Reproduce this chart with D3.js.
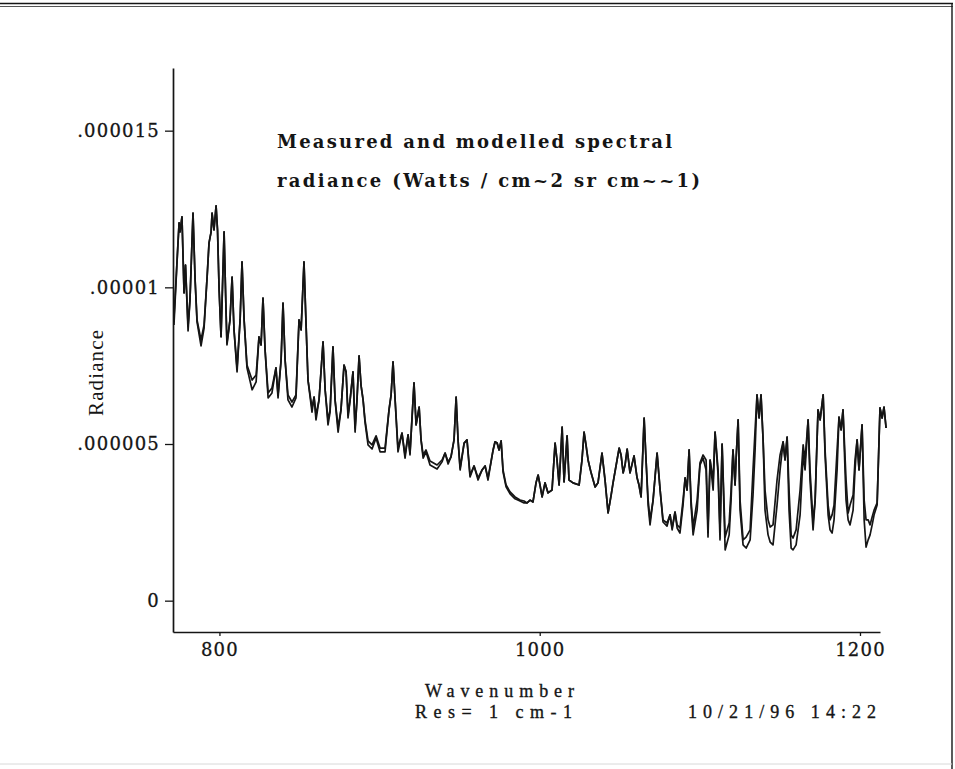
<!DOCTYPE html>
<html>
<head>
<meta charset="utf-8">
<script src="https://cdn.jsdelivr.net/npm/d3@7"></script>
<style>
  html, body { margin: 0; padding: 0; background: #fff; }
  svg { display: block; }
</style>
</head>
<body>
<svg id="chart" width="955" height="769"></svg>
<script>
// Spectral radiance, units of 1e-6 W / (cm^2 sr cm^-1), sampled at the wavenumbers below.
const wavenumber = [
  771.6, 773.5, 774.8, 775.4, 776.6, 777.9, 778.8, 780.4, 781.6, 783.5, 784.8, 786.0, 788.5, 790.4,
  792.3, 793.5, 794.8, 795.4, 796.6, 797.9, 798.8, 799.8, 801.0, 802.9, 804.1, 804.7, 806.6, 807.9,
  809.1, 811.0, 812.9, 814.1, 815.4, 817.2, 820.4, 822.9, 824.7, 826.0, 827.2, 828.5, 830.4, 832.8,
  835.3, 836.6, 838.5, 839.7, 841.0, 842.8, 845.3, 847.8, 849.7, 851.0, 852.8, 854.1, 855.3, 857.8,
  859.1, 860.3, 862.2, 864.7, 866.0, 867.8, 869.1, 870.9, 872.2, 874.1, 875.9, 877.8, 879.1, 880.3,
  881.6, 883.4, 884.7, 885.9, 887.2, 888.4, 889.7, 890.9, 892.8, 895.3, 897.8, 900.3, 903.4, 905.9,
  907.2, 908.4, 909.7, 911.5, 914.0, 915.9, 917.8, 919.0, 921.5, 922.8, 924.7, 925.9, 927.2, 929.0,
  931.5, 935.9, 939.0, 940.9, 942.8, 944.6, 946.5, 947.8, 949.0, 950.3, 952.8, 954.6, 956.5, 959.0,
  961.5, 964.0, 965.9, 967.7, 969.6, 970.9, 972.1, 973.4, 974.6, 975.9, 977.1, 979.0, 981.5, 984.6,
  987.7, 990.2, 992.1, 994.0, 995.8, 997.7, 999.0, 1000.2, 1001.5, 1003.3, 1005.2, 1007.7, 1009.6, 1010.8,
  1012.1, 1014.0, 1015.2, 1017.1, 1018.3, 1020.8, 1024.6, 1026.4, 1027.7, 1028.9, 1030.2, 1032.1, 1034.6, 1036.4,
  1038.9, 1040.8, 1042.7, 1044.6, 1045.8, 1048.3, 1049.6, 1050.8, 1052.1, 1053.3, 1054.6, 1056.4, 1058.9, 1060.8,
  1062.0, 1063.3, 1065.2, 1066.4, 1067.7, 1068.9, 1070.8, 1073.3, 1075.2, 1077.0, 1079.5, 1081.4, 1082.7, 1084.5,
  1085.8, 1087.6, 1089.5, 1090.8, 1092.0, 1093.3, 1094.5, 1095.8, 1098.3, 1100.1, 1102.0, 1103.9, 1105.1, 1106.4,
  1108.3, 1109.5, 1111.4, 1112.6, 1113.9, 1115.8, 1118.3, 1119.5, 1120.7, 1122.0, 1122.6, 1123.9, 1125.1, 1127.0,
  1128.9, 1131.4, 1133.2, 1134.5, 1135.7, 1137.0, 1138.2, 1139.5, 1140.7, 1142.6, 1143.9, 1145.7, 1148.2, 1150.1,
  1152.0, 1153.2, 1154.5, 1155.7, 1157.0, 1158.2, 1160.1, 1162.6, 1164.5, 1165.7, 1167.6, 1168.8, 1170.7, 1172.0,
  1173.8, 1175.1, 1177.0, 1178.2, 1180.1, 1181.3, 1182.6, 1183.8, 1185.7, 1186.9, 1188.2, 1189.4, 1191.3, 1192.6,
  1193.8, 1195.7, 1196.9, 1198.2, 1199.4, 1201.3, 1202.6, 1203.8, 1205.1, 1206.3, 1207.6, 1208.8, 1210.7, 1211.9,
  1212.5, 1213.8, 1215.0, 1216.3
];

const measured = [
  9.02, 10.81, 12.06, 11.77, 12.25, 9.82, 10.71, 8.77, 9.60, 12.37, 10.24, 8.96, 8.32, 8.80,
  10.33, 11.42, 11.77, 12.37, 11.83, 12.60, 11.83, 9.92, 8.42, 11.77, 9.28, 8.23, 8.96, 10.33,
  8.64, 7.43, 8.96, 10.81, 8.96, 7.52, 7.04, 7.20, 8.42, 8.16, 9.66, 8.00, 6.63, 6.79,
  7.43, 6.57, 7.68, 9.50, 7.68, 6.57, 6.34, 6.57, 8.96, 8.64, 10.81, 8.80, 7.04, 6.15,
  6.50, 5.93, 6.41, 8.26, 6.73, 5.77, 6.09, 8.10, 6.41, 5.54, 6.09, 7.52, 7.30, 5.93,
  6.41, 7.30, 5.51, 6.41, 7.81, 6.88, 6.41, 5.77, 5.10, 4.97, 5.26, 4.87, 4.87, 6.09,
  6.57, 7.62, 6.41, 4.87, 5.35, 4.65, 5.29, 4.71, 6.95, 5.61, 6.18, 5.13, 4.65, 4.81,
  4.46, 4.33, 4.49, 4.71, 4.43, 4.59, 5.13, 6.50, 5.13, 4.24, 5.03, 5.13, 4.01, 4.30,
  3.92, 4.17, 4.30, 3.92, 4.43, 4.81, 5.07, 5.03, 4.81, 5.10, 4.17, 3.69, 3.47, 3.31,
  3.21, 3.18, 3.12, 3.21, 3.15, 3.76, 4.01, 3.69, 3.31, 3.76, 3.44, 3.53, 5.03, 4.49,
  3.69, 5.54, 3.79, 5.26, 3.85, 3.76, 3.69, 4.49, 5.38, 4.97, 4.49, 4.08, 3.63, 3.76,
  4.71, 3.85, 2.80, 3.37, 3.76, 4.49, 4.87, 4.65, 4.08, 4.33, 4.84, 4.08, 4.62, 3.92,
  3.69, 3.31, 5.83, 4.49, 3.21, 2.58, 3.21, 4.71, 3.53, 2.58, 2.48, 2.74, 2.32, 2.83,
  2.42, 2.32, 3.21, 3.92, 3.53, 4.81, 3.21, 2.35, 3.21, 4.40, 4.65, 4.49, 2.35, 4.49,
  3.85, 5.38, 4.17, 2.26, 5.00, 2.03, 2.48, 3.53, 4.81, 3.69, 4.49, 5.77, 3.21, 1.94,
  2.03, 2.26, 4.17, 5.45, 6.57, 5.83, 6.57, 5.13, 3.53, 2.58, 2.35, 2.42, 3.85, 4.65,
  5.07, 4.49, 5.22, 3.53, 2.10, 2.00, 2.26, 3.53, 4.97, 4.49, 5.77, 4.17, 2.51, 3.21,
  6.09, 5.77, 6.57, 4.81, 3.05, 2.58, 2.74, 3.05, 4.81, 5.86, 5.45, 6.09, 3.85, 2.80,
  3.05, 3.37, 4.49, 5.13, 4.17, 5.61, 3.21, 2.58, 2.58, 2.42, 2.67, 2.89, 3.12, 5.13,
  6.15, 5.83, 6.18, 5.51
];

const modelled = [
  8.80, 10.81, 12.06, 11.77, 12.25, 9.82, 10.71, 8.61, 9.60, 12.37, 10.24, 8.90, 8.13, 8.70,
  10.33, 11.42, 11.77, 12.37, 11.83, 12.60, 11.83, 9.92, 8.42, 11.77, 9.28, 8.16, 8.96, 10.33,
  8.64, 7.30, 8.96, 10.81, 8.96, 7.43, 6.73, 6.98, 8.42, 8.16, 9.66, 8.00, 6.47, 6.63,
  7.43, 6.47, 7.68, 9.50, 7.68, 6.41, 6.18, 6.47, 8.96, 8.64, 10.81, 8.80, 7.04, 6.02,
  6.50, 5.77, 6.41, 8.26, 6.73, 5.61, 6.02, 8.10, 6.41, 5.38, 6.09, 7.52, 7.30, 5.83,
  6.41, 7.30, 5.38, 6.41, 7.81, 6.88, 6.41, 5.70, 4.97, 4.84, 5.19, 4.75, 4.75, 6.09,
  6.57, 7.62, 6.41, 4.75, 5.35, 4.55, 5.29, 4.65, 6.95, 5.61, 6.18, 5.13, 4.55, 4.75,
  4.33, 4.20, 4.43, 4.71, 4.36, 4.59, 5.13, 6.50, 5.13, 4.17, 5.03, 5.13, 3.95, 4.30,
  3.85, 4.17, 4.30, 3.85, 4.43, 4.81, 5.07, 5.03, 4.81, 5.10, 4.11, 3.63, 3.41, 3.25,
  3.18, 3.12, 3.12, 3.21, 3.15, 3.76, 4.01, 3.69, 3.31, 3.76, 3.44, 3.53, 5.03, 4.49,
  3.69, 5.54, 3.79, 5.26, 3.85, 3.76, 3.69, 4.49, 5.38, 4.97, 4.49, 4.08, 3.63, 3.76,
  4.71, 3.85, 2.80, 3.37, 3.76, 4.49, 4.87, 4.65, 4.08, 4.33, 4.84, 4.08, 4.62, 3.92,
  3.69, 3.31, 5.83, 4.49, 3.05, 2.42, 3.21, 4.71, 3.53, 2.51, 2.38, 2.74, 2.26, 2.83,
  2.32, 2.16, 3.05, 3.92, 3.53, 4.81, 3.05, 2.10, 2.89, 4.33, 4.55, 4.17, 2.03, 4.49,
  3.53, 5.38, 4.01, 1.94, 5.00, 1.62, 2.10, 3.21, 4.81, 3.69, 4.49, 5.77, 2.89, 1.78,
  1.68, 1.94, 3.37, 4.81, 6.57, 5.83, 6.57, 5.13, 2.89, 2.10, 1.87, 1.78, 3.05, 4.17,
  5.07, 4.49, 5.22, 2.89, 1.68, 1.62, 1.78, 2.74, 4.65, 4.17, 5.77, 3.85, 2.26, 3.21,
  6.09, 5.77, 6.57, 4.65, 2.74, 2.26, 2.16, 2.58, 4.17, 5.86, 5.45, 6.09, 3.21, 2.58,
  2.42, 2.89, 4.17, 5.13, 4.17, 5.61, 2.58, 1.71, 1.94, 2.10, 2.42, 2.74, 3.05, 5.13,
  6.15, 5.83, 6.18, 5.51
];

// Axis ticks
const xTicks = [800, 1000, 1200];
const yTicks = [0, 5, 10, 15];
const yTickLabels = ["0", ".000005", ".00001", ".000015"];

const titleLines = ["Measured and modelled spectral", "radiance (Watts / cm~2 sr cm~~1)"];

const svg = d3.select("#chart");
const ink = "#151515";

// Page frame (top rule, right edge, faint bottom edge)
svg.append("line").attr("x1", 0).attr("x2", 953).attr("y1", 3.5).attr("y2", 3.5)
  .attr("stroke", ink).attr("stroke-width", 1.6);
svg.append("line").attr("x1", 0).attr("x2", 953).attr("y1", 6.5).attr("y2", 6.5)
  .attr("stroke", "#555").attr("stroke-width", 1);
svg.append("line").attr("x1", 952).attr("x2", 952).attr("y1", 3).attr("y2", 769)
  .attr("stroke", ink).attr("stroke-width", 1.4);
svg.append("line").attr("x1", 0).attr("x2", 952).attr("y1", 764).attr("y2", 764)
  .attr("stroke", "#d8d8d8").attr("stroke-width", 1);

const x = d3.scaleLinear().domain([771, 1212.5]).range([173, 880]);
const y = d3.scaleLinear().domain([-1, 17]).range([632, 68]);

const tickFont = "'DejaVu Serif', serif";

// Y axis
const yAxis = svg.append("g").attr("transform", "translate(173,0)")
  .call(d3.axisLeft(y).tickValues(yTicks).tickFormat((d, i) => yTickLabels[i])
    .tickSizeInner(8).tickSizeOuter(0).tickPadding(5));
yAxis.select(".domain").attr("stroke", ink).attr("stroke-width", 1.7);
yAxis.selectAll(".tick line").attr("stroke", ink).attr("stroke-width", 1.3);
yAxis.selectAll(".tick text").attr("fill", ink).attr("stroke", ink).attr("stroke-width", 0.3)
  .style("font-family", tickFont).style("font-size", "18px").style("letter-spacing", "1.2px");

// X axis
const xAxis = svg.append("g").attr("transform", "translate(0,632)")
  .call(d3.axisBottom(x).tickValues(xTicks).tickFormat(d3.format("d"))
    .tickSizeInner(4).tickSizeOuter(0).tickPadding(7));
xAxis.select(".domain").attr("stroke", ink).attr("stroke-width", 1.7);
xAxis.selectAll(".tick line").attr("stroke", ink).attr("stroke-width", 1.3);
xAxis.selectAll(".tick text").attr("fill", ink).attr("stroke", ink).attr("stroke-width", 0.3)
  .style("font-family", tickFont).style("font-size", "18px").style("letter-spacing", "1.2px");

// Spectra
const line = (vals) => d3.line()
  .x((d, i) => x(wavenumber[i]))
  .y((d) => y(d))(vals);

[modelled, measured].forEach(vals => {
  svg.append("path")
    .attr("d", line(vals))
    .attr("fill", "none")
    .attr("stroke", ink)
    .attr("stroke-width", 1.7)
    .attr("stroke-linejoin", "round");
});

// Title inside the plot
const titleFont = "'DejaVu Serif', serif";
svg.append("text").attr("x", 277).attr("y", 148)
  .attr("textLength", 395).attr("lengthAdjust", "spacing")
  .style("font-family", titleFont).style("font-size", "18px").style("font-weight", "bold")
  .attr("fill", ink).text(titleLines[0]);
svg.append("text").attr("x", 277).attr("y", 187)
  .attr("textLength", 423).attr("lengthAdjust", "spacing")
  .style("font-family", titleFont).style("font-size", "18px").style("font-weight", "bold")
  .attr("fill", ink).text(titleLines[1]);

// Axis titles and footer
const labelFont = "'Liberation Serif', 'Times New Roman', serif";
svg.append("text")
  .attr("transform", "translate(103,373) rotate(-90)")
  .attr("text-anchor", "middle")
  .attr("textLength", 86).attr("lengthAdjust", "spacing")
  .style("font-family", labelFont).style("font-size", "21px")
  .attr("fill", ink).text("Radiance");

const footer = [
  { text: "Wavenumber", x: 425, y: 697, len: 149 },
  { text: "Res= 1 cm-1", x: 415, y: 718, len: 157 },
  { text: "10/21/96 14:22", x: 688, y: 718, len: 188 }
];
footer.forEach(f => {
  svg.append("text").attr("x", f.x).attr("y", f.y)
    .attr("textLength", f.len).attr("lengthAdjust", "spacing")
    .style("font-family", labelFont).style("font-size", "18px")
    .attr("fill", ink).attr("stroke", ink).attr("stroke-width", 0.35)
    .text(f.text);
});
</script>
</body>
</html>
